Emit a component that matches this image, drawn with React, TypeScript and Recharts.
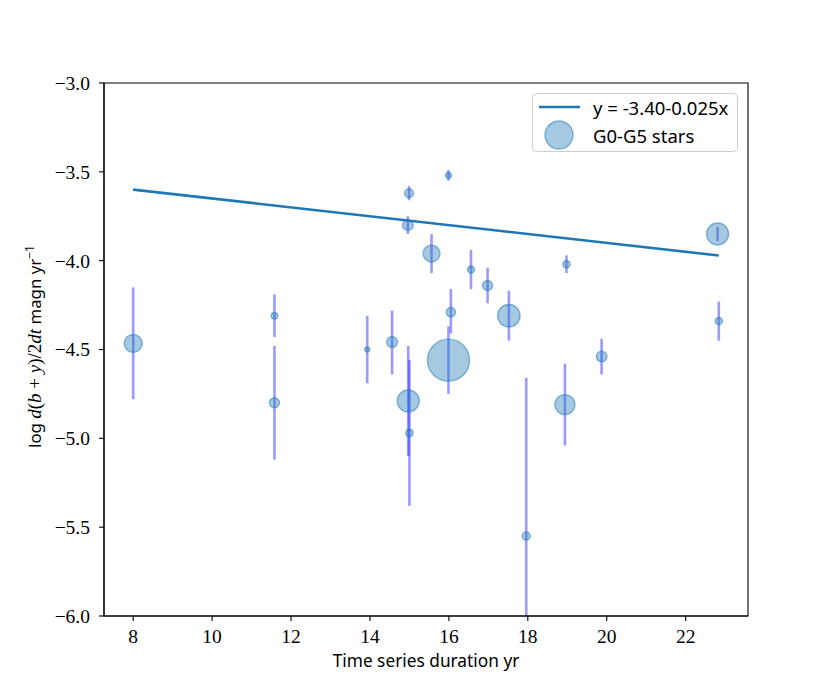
import { ScatterChart, Scatter, XAxis, YAxis, ZAxis, ErrorBar, ReferenceArea, Legend, Label } from 'recharts';

// G0-G5 stars: duration (yr), log rate, error range, marker weight
const duration = [8.0, 11.58, 11.58, 13.93, 14.56, 14.99, 14.96, 14.97, 15.0, 15.99, 16.05, 15.99, 15.56, 16.56, 16.98, 17.52, 17.96, 18.94, 18.98, 19.87, 22.81, 22.84];
const logRate = [-4.466, -4.31, -4.8, -4.5, -4.458, -3.62, -3.8, -4.79, -4.97, -4.56, -4.29, -3.52, -3.96, -4.05, -4.14, -4.31, -5.55, -4.81, -4.02, -4.54, -3.85, -4.34];
const rateLow = [-4.78, -4.43, -5.12, -4.69, -4.64, -3.66, -3.85, -5.1, -5.38, -4.75, -4.41, -3.55, -4.07, -4.16, -4.24, -4.45, -6.0, -5.04, -4.07, -4.64, -3.89, -4.45];
const rateHigh = [-4.15, -4.19, -4.48, -4.31, -4.28, -3.58, -3.75, -4.48, -4.56, -4.37, -4.16, -3.49, -3.85, -3.94, -4.04, -4.17, -4.66, -4.58, -3.97, -4.44, -3.81, -4.23];
const weight = [81, 11, 25, 7, 30, 20, 28, 121, 14, 441, 22, 8, 72, 12, 25, 125, 16, 100, 13, 28, 121, 13];

// fitted line y = -3.40-0.025x, end points
const fitX = [8.0, 22.84];
const fitY = [-3.6, -3.971];

const xTicks = [8, 10, 12, 14, 16, 18, 20, 22];
const yTicks = [-6.0, -5.5, -5.0, -4.5, -4.0, -3.5, -3.0];
const xDomain = [7.26, 23.58];
const yDomain = [-6.0, -3.0];

const fitLabel = 'y = -3.40-0.025x';
const starLabel = 'G0-G5 stars';

const stars = duration.map((x, i) => ({
  x,
  y: logRate[i],
  w: weight[i],
  err: [logRate[i] - rateLow[i], rateHigh[i] - logRate[i]],
}));
const fitLine = fitX.map((x, i) => ({ x, y: fitY[i] }));

const BLUE = '#1f77b4';
const serif = { fontFamily: '"Liberation Serif", "DejaVu Serif", serif' };
const serifIt = { ...serif, fontStyle: 'italic' };
const sans = { fontFamily: '"Noto Sans", Roboto, sans-serif' };

const fmtY = (v: number) => (v < 0 ? '\u2212' : '') + Math.abs(v).toFixed(1);

const empty = () => <g />;

function XTick(props: any) {
  const { x, y, payload } = props;
  return (
    <text x={x} y={y} dy="0.71em" textAnchor="middle" style={{ ...serif, fontSize: 19.5 }} fill="#000">
      {payload.value}
    </text>
  );
}

function YTick(props: any) {
  const { x, y, payload } = props;
  return (
    <text x={x} y={y} dy="0.355em" textAnchor="end" style={{ ...serif, fontSize: 19.5 }} fill="#000">
      {fmtY(payload.value)}
    </text>
  );
}

function XTitle(props: any) {
  const vb = props.viewBox;
  return (
    <text x={vb.x + vb.width / 2} y={vb.y + 51} textAnchor="middle" style={{ ...sans, fontSize: 17.3 }} fill="#000">
      Time series duration yr
    </text>
  );
}

function YTitle(props: any) {
  const vb = props.viewBox;
  const cx = vb.x - 3;
  const cy = vb.y + vb.height / 2 - 3;
  return (
    <text x={cx} y={cy} transform={`rotate(-90, ${cx}, ${cy})`} textAnchor="middle" style={{ ...sans, fontSize: 16.8 }} fill="#000">
      <tspan>{'log '}</tspan>
      <tspan style={{ ...serifIt, fontSize: 19 }}>d</tspan>
      <tspan style={{ ...serif, fontSize: 19 }}>(</tspan>
      <tspan style={{ ...serifIt, fontSize: 19 }}>b</tspan>
      <tspan style={{ ...serif, fontSize: 19 }}>{' + '}</tspan>
      <tspan style={{ ...serifIt, fontSize: 19 }}>y</tspan>
      <tspan style={{ ...serif, fontSize: 19 }}>)/2</tspan>
      <tspan style={{ ...serifIt, fontSize: 19 }}>dt</tspan>
      <tspan>{' magn yr'}</tspan>
      <tspan style={{ fontSize: 12 }} dy={-7}>{'\u22121'}</tspan>
    </text>
  );
}

function LegendBox() {
  return (
    <svg width={206} height={59} style={{ display: 'block' }}>
      <rect x={0.5} y={0.5} width={205} height={58} rx={4} fill="#fff" fillOpacity={0.8} stroke="#cccccc" />
      <line x1={7} x2={48} y1={14} y2={14} stroke={BLUE} strokeWidth={2.6} />
      <text x={61} y={22} style={{ ...sans, fontSize: 18.5 }} fill="#000">{fitLabel}</text>
      <circle cx={27} cy={42} r={14} fill={BLUE} fillOpacity={0.4} stroke={BLUE} strokeOpacity={0.5} strokeWidth={1.4} />
      <text x={61} y={49.5} style={{ ...sans, fontSize: 18.5 }} fill="#000">{starLabel}</text>
    </svg>
  );
}

export default function App() {
  return (
    <div style={{ position: 'absolute', left: 0, top: 0, width: 830, height: 692, background: '#fff' }}>
      <ScatterChart width={830} height={692} margin={{ top: 83, right: 82, bottom: 36, left: 44 }}>
        <XAxis
          type="number"
          dataKey="x"
          domain={xDomain}
          ticks={xTicks}
          allowDataOverflow
          height={40}
          tickSize={5}
          tickMargin={8}
          tick={<XTick />}
          axisLine={{ stroke: '#000', strokeWidth: 1.1 }}
          tickLine={{ stroke: '#000', strokeWidth: 1.1 }}
          label={<Label content={XTitle} />}
        />
        <YAxis
          type="number"
          dataKey="y"
          domain={yDomain}
          ticks={yTicks}
          allowDataOverflow
          width={60}
          tickSize={5}
          tickMargin={9}
          tick={<YTick />}
          axisLine={{ stroke: '#000', strokeWidth: 1.1 }}
          tickLine={{ stroke: '#000', strokeWidth: 1.1 }}
          label={<Label content={YTitle} />}
        />
        <ZAxis type="number" dataKey="w" domain={[0, 441]} range={[0, 441 * Math.PI]} />
        <ReferenceArea x1={xDomain[0]} x2={xDomain[1]} y1={yDomain[0]} y2={yDomain[1]} fill="none" stroke="#000" strokeWidth={1.1} ifOverflow="visible" />
        <Scatter
          data={stars}
          fill={BLUE}
          fillOpacity={0.4}
          stroke={BLUE}
          strokeOpacity={0.5}
          strokeWidth={1.4}
          isAnimationActive={false}
        />
        <Scatter data={stars} shape={empty} isAnimationActive={false} legendType="none">
          <ErrorBar dataKey="err" direction="y" width={0} stroke="#0000ff" strokeOpacity={0.4} strokeWidth={2.6} />
        </Scatter>
        <Scatter
          data={fitLine}
          fill={BLUE}
          line={{ stroke: BLUE, strokeWidth: 2.6 }}
          shape={empty}
          isAnimationActive={false}
        />
        <Legend
          layout="horizontal"
          verticalAlign="middle"
          align="center"
          wrapperStyle={{ top: 93, left: 532, width: 206, height: 59 }}
          content={LegendBox}
        />
      </ScatterChart>
    </div>
  );
}
